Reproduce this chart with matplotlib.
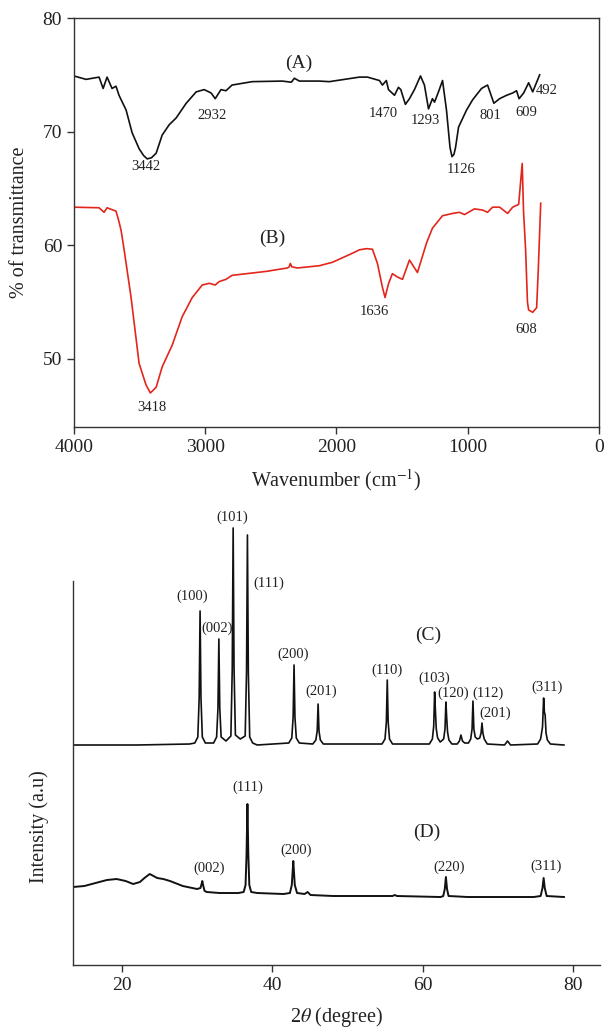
import matplotlib
matplotlib.use('Agg')
from matplotlib import pyplot as plt

# FTIR spectrum (A) - wavenumber (cm-1) and % transmittance
ftir_a_wn = [4000, 3908, 3809, 3778, 3748, 3710, 3680, 3657, 3603, 3557, 3504, 3470, 3442, 3410,
             3374, 3328, 3275, 3222, 3145, 3069, 3008, 2955, 2924, 2880, 2842, 2796, 2642, 2413,
             2344, 2321, 2283, 2130, 2054, 1825, 1764, 1673, 1650, 1620, 1604, 1558, 1528, 1510,
             1475, 1444, 1406, 1360, 1330, 1299, 1269, 1253, 1223, 1192, 1162, 1135, 1120, 1105,
             1093, 1070, 1009, 963, 895, 849, 801, 757, 704, 658, 628, 609, 574, 536, 505, 452]
ftir_a_t = [74.9, 74.6, 74.8, 73.8, 74.8, 73.8, 74.0, 73.2, 71.9, 69.9, 68.5, 67.9, 67.6, 67.7,
            68.1, 69.7, 70.6, 71.2, 72.5, 73.5, 73.7, 73.4, 72.9, 73.7, 73.6, 74.1, 74.4, 74.45,
            74.35, 74.7, 74.45, 74.45, 74.4, 74.8, 74.8, 74.5, 74.1, 74.5, 73.7, 73.2, 73.9, 73.7,
            72.4, 72.9, 73.7, 74.9, 74.1, 72.0, 72.9, 72.6, 73.5, 74.5, 71.9, 68.6, 67.8, 68.0,
            68.6, 70.4, 71.9, 72.8, 73.8, 74.1, 72.5, 72.9, 73.2, 73.4, 73.6, 72.9, 73.4, 74.3, 73.5, 75.0]

# FTIR spectrum (B)
ftir_b_wn = [4000, 3809, 3771, 3748, 3680, 3660, 3641, 3618, 3565, 3504, 3451, 3418, 3374, 3328,
             3252, 3176, 3099, 3023, 2970, 2924, 2894, 2842, 2796, 2535, 2375, 2360, 2352, 2340,
             2298, 2130, 2031, 1878, 1825, 1772, 1726, 1688, 1650, 1630, 1604, 1574, 1535, 1497,
             1444, 1383, 1314, 1269, 1192, 1116, 1063, 1025, 949, 887, 849, 811, 757, 696, 658,
             612, 585, 575, 559, 545, 536, 505, 475, 462, 444]
ftir_b_t = [63.35, 63.3, 62.9, 63.3, 63.0, 62.2, 61.3, 59.6, 55.4, 49.6, 47.7, 47.0, 47.5, 49.3,
            51.2, 53.7, 55.4, 56.5, 56.65, 56.5, 56.8, 57.0, 57.35, 57.7, 58.0, 58.1, 58.4, 58.1,
            58.0, 58.2, 58.5, 59.3, 59.6, 59.7, 59.65, 58.4, 56.3, 55.4, 56.6, 57.5, 57.2, 57.0,
            58.7, 57.6, 60.2, 61.5, 62.6, 62.8, 62.9, 62.7, 63.2, 63.1, 62.9, 63.35, 63.35, 62.8, 63.35,
            63.6, 67.2, 63.0, 59.6, 55.0, 54.3, 54.1, 54.5, 58.0, 63.7]

# band labels: text, wavenumber, transmittance
ftir_labels = ['3442', '2932', '1470', '1293', '1126', '801', '609', '492', '3418', '1636', '608']
ftir_label_wn = [3450, 2947, 1642, 1322, 1047, 826, 551, 399, 3405, 1711, 551]
ftir_label_t = [66.9, 71.45, 71.6, 71.0, 66.7, 71.45, 71.7, 73.6, 45.7, 54.2, 52.6]

# XRD pattern (C)
xrd_c_2t = [13.5, 22, 29.0,
            29.7, 30.1, 30.28, 30.4, 30.52, 30.7, 31.1,
            32.2, 32.6, 32.78, 32.9, 33.02, 33.2, 33.85,
            34.5, 34.68, 34.8, 34.92, 35.1, 35.75,
            36.4, 36.58, 36.7, 36.82, 37.0, 37.4, 38,
            42.2, 42.6, 42.78, 42.9, 43.02, 43.2, 43.6,
            45.4, 45.8, 45.98, 46.1, 46.22, 46.4, 46.8,
            54.6, 55.0, 55.18, 55.3, 55.42, 55.6, 56.0,
            60.9, 61.3, 61.48, 61.6, 61.7, 61.82, 62.0, 62.35,
            62.8, 62.98, 63.1, 63.2, 63.32, 63.5, 63.9,
            64.6, 64.9, 65.1, 65.3, 65.6,
            66.1, 66.4, 66.58, 66.7, 66.82, 67.0, 67.3,
            67.6, 67.78, 67.9, 68.02, 68.2, 68.6,
            70.9, 71.3, 71.7,
            75.3, 75.7, 75.95, 76.1, 76.2, 76.3, 76.42, 76.6, 77.0, 78.8]
xrd_c_i = [220, 220, 221,
           222, 228, 267, 354, 267, 228, 222,
           222, 228, 257, 326, 257, 228, 224,
           229, 296, 437, 296, 230, 226,
           229, 293, 430, 293, 228, 222, 220,
           222, 227, 248, 300, 248, 227, 222,
           221, 225, 234, 261, 234, 225, 221,
           221, 226, 243, 285, 243, 226, 221,
           221, 226, 239, 273, 255, 236, 227, 223,
           226, 236, 263, 248, 233, 225, 221,
           221, 224, 230, 224, 222,
           222, 226, 236, 264, 236, 228, 226,
           227, 232, 242, 232, 226, 221,
           220, 224, 220,
           221, 226, 238, 267, 253, 250, 232, 225, 221, 220]

# XRD pattern (D)
xrd_d_2t = [13.5, 15, 16.5, 18, 19.3, 20.5, 21.5, 22.4, 23.0, 23.7, 24.7, 25.5, 26.4, 28.1, 30.0,
            30.45, 30.6, 30.7, 30.8, 31.0, 31.3, 33, 35.5,
            36.2, 36.45, 36.58, 36.7, 36.82, 36.95, 37.2, 38, 41.5,
            42.35, 42.6, 42.7, 42.8, 42.9, 43.0, 43.3, 44.3, 44.7, 45.1, 48.1, 56, 56.3, 56.6, 62.4,
            62.75, 62.95, 63.1, 63.25, 63.45, 66, 74.8,
            75.7, 75.95, 76.1, 76.25, 76.5, 78.8]
xrd_d_i = [78, 79, 82, 85, 86, 84, 81, 83, 87, 91, 87, 86, 84, 79, 76,
           77, 81, 84, 80, 74, 73, 72, 72,
           73, 80, 110, 161, 110, 80, 73, 72, 71,
           72, 80, 92, 104, 92, 80, 72, 71, 73, 70, 69, 69, 70, 69, 68,
           69, 76, 88, 76, 69, 68, 68,
           69, 77, 87, 77, 69, 68]

c_labels = ['(100)', '(002)', '(101)', '(111)', '(200)', '(201)', '(110)', '(103)', '(120)',
            '(112)', '(201)', '(311)']
c_label_2t = [29.3, 32.7, 34.7, 39.5, 42.8, 46.5, 55.3, 61.5, 64.1, 68.7, 69.6, 76.5]
c_label_i = [369, 337, 448, 382, 311, 274, 295, 287, 272, 272, 252, 278]

d_labels = ['(002)', '(111)', '(200)', '(220)', '(311)']
d_label_2t = [31.6, 36.8, 43.2, 63.5, 76.4]
d_label_i = [97, 178, 115, 98, 99]

plt.rcParams['font.family'] = ['Liberation Serif', 'DejaVu Serif']
plt.rcParams['mathtext.fontset'] = 'stix'

fig = plt.figure(figsize=(6.04, 10.30), dpi=100)
spine_col = '#333333'
text_col = '#222222'

# ---- top panel: FTIR ----
ax1 = fig.add_axes([0.1225, 0.5854, 0.8692, 0.3971])
ax1.plot(ftir_a_wn, ftir_a_t, color='#111111', lw=1.2)
ax1.plot(ftir_b_wn, ftir_b_t, color='#e3261c', lw=1.2)
for t, x, y in zip(ftir_labels, ftir_label_wn, ftir_label_t):
    ax1.text(x, y, t, ha='center', va='center', fontsize=10.5, color=text_col)
ax1.text(2290, 76.0, '(A)', ha='center', va='center', fontsize=14, color=text_col)
ax1.text(2489, 60.6, '(B)', ha='center', va='center', fontsize=14, color=text_col)
ax1.set_xlim(4000, 0)
ax1.set_ylim(44, 80)
ax1.set_xticks([4000, 3000, 2000, 1000, 0])
ax1.set_yticks([50, 60, 70, 80])
ax1.set_xlabel('Wavenumber (cm$^{-1}$)', fontsize=14.5, color=text_col, labelpad=8)
ax1.set_ylabel('% of transmittance', fontsize=14.5, color=text_col, labelpad=10)

# ---- bottom panel: XRD ----
ax2 = fig.add_axes([0.1209, 0.0631, 0.8725, 0.4466])
ax2.plot(xrd_c_2t, xrd_c_i, color='#111111', lw=1.2)
ax2.plot(xrd_d_2t, xrd_d_i, color='#111111', lw=1.4)
for t, x, y in zip(c_labels, c_label_2t, c_label_i):
    ax2.text(x, y, t, ha='center', va='center', fontsize=10.5, color=text_col)
for t, x, y in zip(d_labels, d_label_2t, d_label_i):
    ax2.text(x, y, t, ha='center', va='center', fontsize=10.5, color=text_col)
ax2.text(60.8, 330, '(C)', ha='center', va='center', fontsize=14, color=text_col)
ax2.text(60.6, 133, '(D)', ha='center', va='center', fontsize=14, color=text_col)
ax2.set_xlim(13.5, 83.6)
ax2.set_ylim(0, 460)
ax2.set_xticks([20, 40, 60, 80])
ax2.set_yticks([])
ax2.spines['top'].set_visible(False)
ax2.spines['right'].set_visible(False)
ax2.spines['left'].set_bounds(0, 384)
ax2.set_xlabel(r'2$\theta$ (degree)', fontsize=14.5, color=text_col, labelpad=8)
ax2.set_ylabel('Intensity (a.u)', fontsize=14.5, color=text_col)
ax2.yaxis.set_label_coords(-0.045, 0.30)

for ax in (ax1, ax2):
    for s in ax.spines.values():
        s.set_color(spine_col)
        s.set_linewidth(1.0)
    ax.tick_params(direction='out', length=5, width=1, color=spine_col,
                   labelsize=14, labelcolor=text_col)

fig.savefig('out.png', dpi=100)
